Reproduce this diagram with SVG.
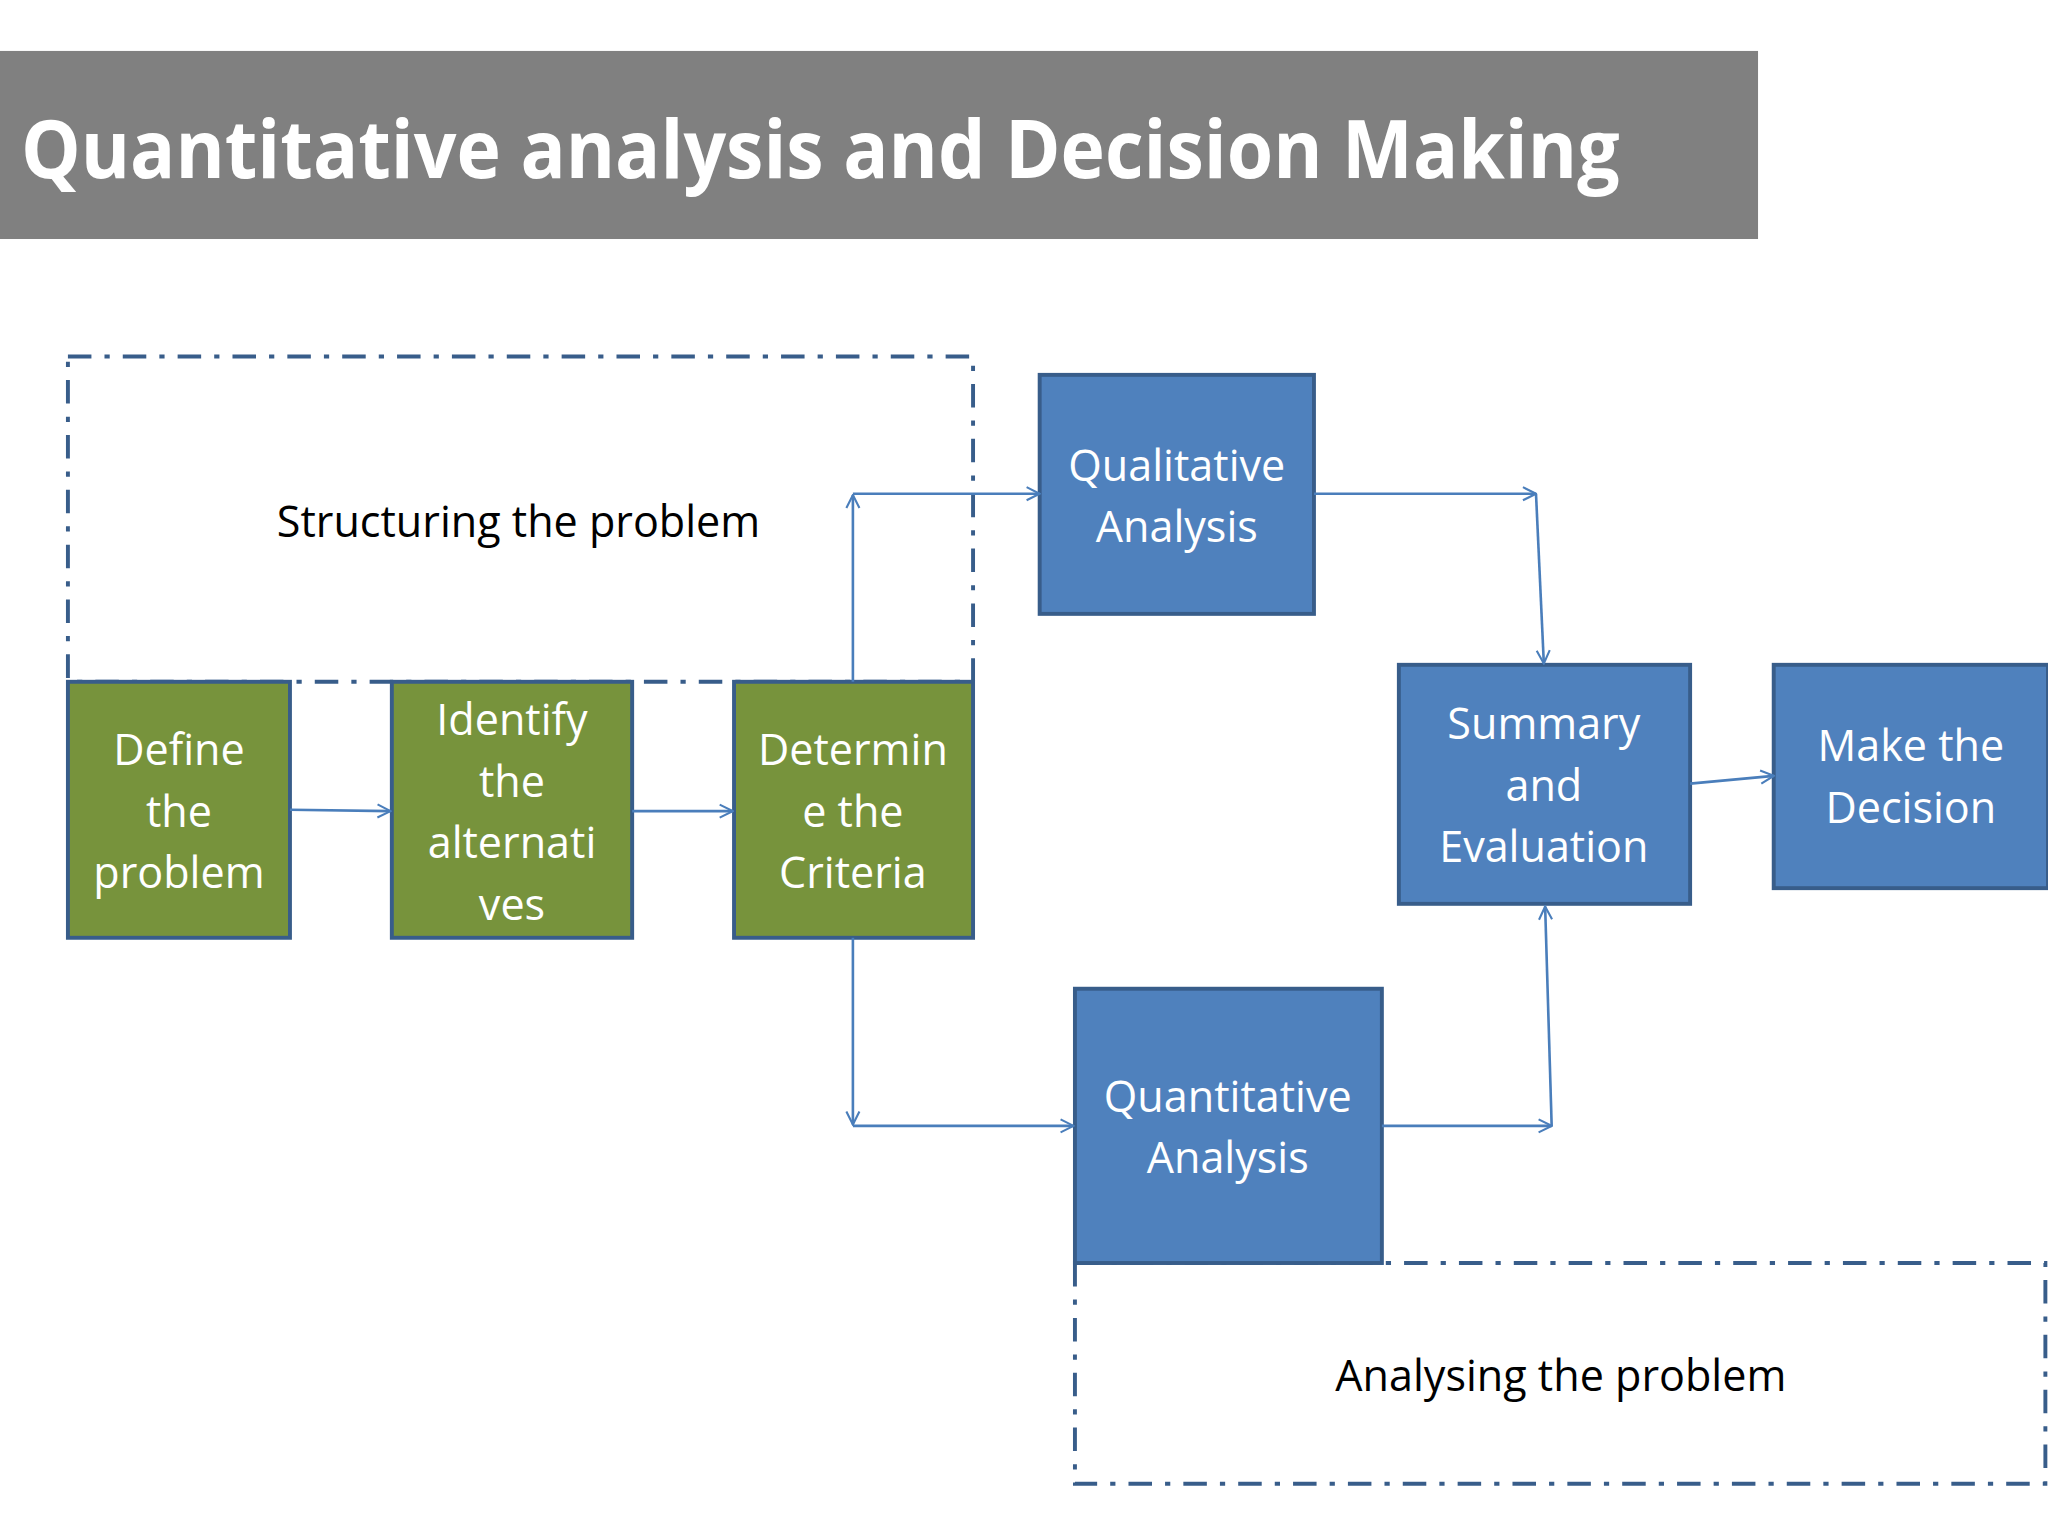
<svg xmlns="http://www.w3.org/2000/svg" width="2048" height="1536" viewBox="0 0 2048 1536">
<defs>
<style>
.t{font-family:"Open Sans","Liberation Sans",sans-serif;font-size:33px;fill:#fff;text-anchor:middle}
.d{font-family:"Open Sans","Liberation Sans",sans-serif;font-size:33px;fill:#000;text-anchor:middle}
.g{fill:#77933C;stroke:#385D8A;stroke-width:3}
.b{fill:#4F81BD;stroke:#385D8A;stroke-width:3}
.dash{fill:none;stroke:#385D8A;stroke-width:3;stroke-dasharray:18 10 4 10}
.c{fill:none;stroke:#4A7EBB;stroke-width:2}
</style>
<marker id="a" viewBox="0 0 12 12" refX="11" refY="6" markerWidth="12" markerHeight="12" markerUnits="userSpaceOnUse" orient="auto"><path d="M1,1 L11,6 L1,11" fill="none" stroke="#4A7EBB" stroke-width="1.6"/></marker>
</defs>
<rect width="2048" height="1536" fill="#fff"/>
<g transform="scale(1.30612)">
<g id="title"><rect x="0" y="39" width="1346" height="144" fill="#808080"/>
<text x="16" y="136" font-family="Open Sans, Liberation Sans, sans-serif" font-weight="bold" font-size="62" fill="#fff" textLength="1224" lengthAdjust="spacingAndGlyphs">Quantitative analysis and Decision Making</text></g>
<g id="structuring"><rect class="dash" x="52" y="273" width="693" height="249"/><text class="d" x="397" y="411">Structuring the problem</text></g>
<g id="analysing"><rect class="dash" x="823" y="967" width="743" height="169"/><text class="d" x="1195" y="1065">Analysing the problem</text></g>
<g id="define"><rect class="g" x="52" y="522" width="170" height="196"/><text class="t" x="137"><tspan x="137" y="586">Define</tspan><tspan x="137" y="633">the</tspan><tspan x="137" y="680">problem</tspan></text></g>
<g id="identify"><rect class="g" x="300" y="522" width="184" height="196"/><text class="t"><tspan x="392" y="563">Identify</tspan><tspan x="392" y="610">the</tspan><tspan x="392" y="657">alternati</tspan><tspan x="392" y="704">ves</tspan></text></g>
<g id="determine"><rect class="g" x="562" y="522" width="183" height="196"/><text class="t"><tspan x="653" y="586">Determin</tspan><tspan x="653" y="633">e the</tspan><tspan x="653" y="680">Criteria</tspan></text></g>
<g id="qualitative"><rect class="b" x="796" y="287" width="210" height="183"/><text class="t"><tspan x="901" y="368">Qualitative</tspan><tspan x="901" y="415">Analysis</tspan></text></g>
<g id="summary"><rect class="b" x="1071" y="509" width="223" height="183"/><text class="t"><tspan x="1182" y="566">Summary</tspan><tspan x="1182" y="613">and</tspan><tspan x="1182" y="660">Evaluation</tspan></text></g>
<g id="decision"><rect class="b" x="1358" y="509" width="210" height="171"/><text class="t"><tspan x="1463" y="583">Make the</tspan><tspan x="1463" y="630">Decision</tspan></text></g>
<g id="quantitative"><rect class="b" x="823" y="757" width="235" height="210"/><text class="t"><tspan x="940" y="851">Quantitative</tspan><tspan x="940" y="898">Analysis</tspan></text></g>
<g id="connectors">
<path class="c" marker-end="url(#a)" d="M222,620 L299,621"/>
<path class="c" marker-end="url(#a)" d="M484,621 L561,621"/>
<path class="c" marker-end="url(#a)" d="M653,522 L653,379"/>
<path class="c" marker-end="url(#a)" d="M653,378 L796,378"/>
<path class="c" marker-end="url(#a)" d="M1006,378 L1176,378"/>
<path class="c" marker-end="url(#a)" d="M1176,378 L1182,508"/>
<path class="c" marker-end="url(#a)" d="M1294,600 L1358,594"/>
<path class="c" marker-end="url(#a)" d="M653,718 L653,861"/>
<path class="c" marker-end="url(#a)" d="M653,862 L822,862"/>
<path class="c" marker-end="url(#a)" d="M1058,862 L1188,862"/>
<path class="c" marker-end="url(#a)" d="M1188,862 L1183,694"/>
</g>
</g>
</svg>
